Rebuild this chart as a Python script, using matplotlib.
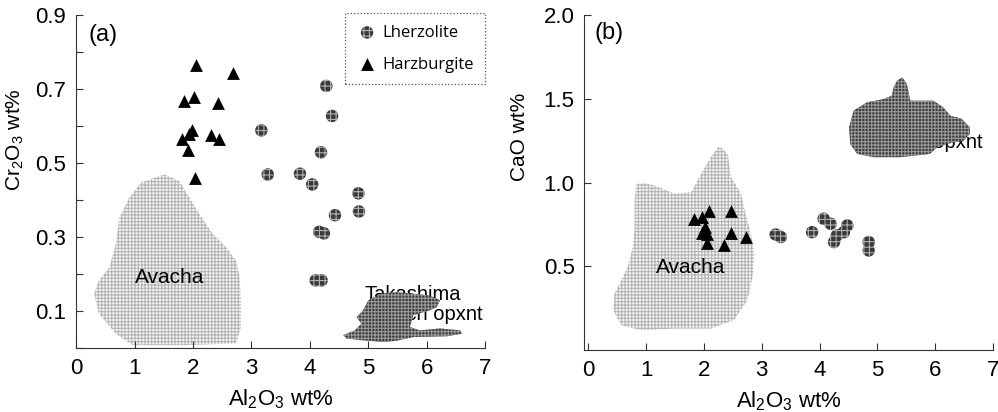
import numpy as np
import matplotlib
matplotlib.use("Agg")
import matplotlib.pyplot as plt
from matplotlib.ticker import MultipleLocator

plt.rcParams['font.family'] = ['Liberation Sans', 'DejaVu Sans']
plt.rcParams['mathtext.fontset'] = 'custom'
plt.rcParams['mathtext.rm'] = 'Liberation Sans'
plt.rcParams['hatch.linewidth'] = 0.8

# ---- panel (a): Cr2O3 vs Al2O3 ----
lherz_al_a = [4.28, 4.38, 3.17, 4.19, 3.28, 3.83, 4.04, 4.83, 4.84, 4.43, 4.16, 4.24, 4.10, 4.20]
lherz_cr_a = [0.708, 0.627, 0.588, 0.529, 0.469, 0.471, 0.442, 0.418, 0.369, 0.359, 0.314, 0.310, 0.183, 0.183]
harz_al_a = [2.05, 2.68, 1.85, 2.02, 2.42, 1.99, 1.94, 1.81, 2.31, 2.44, 1.92, 2.04]
harz_cr_a = [0.764, 0.744, 0.668, 0.677, 0.661, 0.590, 0.578, 0.566, 0.576, 0.566, 0.536, 0.460]

avacha_al_a = [1.11, 1.51, 1.77, 1.94, 2.11, 2.34, 2.57, 2.74, 2.80, 2.82, 2.82, 2.74, 1.88, 0.97,
               0.68, 0.39, 0.31, 0.39, 0.57, 0.68, 0.74, 0.91]
avacha_cr_a = [0.447, 0.469, 0.451, 0.406, 0.362, 0.308, 0.272, 0.236, 0.191, 0.129, 0.057, 0.013,
               0.008, 0.008, 0.039, 0.093, 0.147, 0.183, 0.218, 0.281, 0.352, 0.406]
taka_al_a = [4.57, 4.77, 4.88, 4.80, 4.91, 5.00, 5.20, 5.48, 5.77, 6.05, 6.23, 6.17, 6.05, 5.77,
             5.71, 5.88, 6.23, 6.57, 6.60, 6.34, 5.77, 5.48, 5.26, 4.91, 4.63]
taka_cr_a = [0.035, 0.048, 0.066, 0.084, 0.102, 0.129, 0.147, 0.151, 0.147, 0.142, 0.129, 0.111,
             0.102, 0.089, 0.057, 0.048, 0.053, 0.048, 0.039, 0.032, 0.030, 0.020, 0.017, 0.021, 0.026]

# ---- panel (b): CaO vs Al2O3 ----
lherz_al_b = [3.24, 3.33, 3.87, 4.07, 4.19, 4.30, 4.25, 4.48, 4.42, 4.85, 4.85]
lherz_ca_b = [0.690, 0.675, 0.704, 0.784, 0.754, 0.685, 0.645, 0.744, 0.704, 0.645, 0.595]
harz_al_b = [1.83, 1.97, 2.09, 2.47, 2.01, 2.06, 1.96, 2.47, 2.72, 2.06, 2.35]
harz_ca_b = [0.784, 0.794, 0.829, 0.829, 0.734, 0.694, 0.700, 0.700, 0.675, 0.639, 0.625]

avacha_al_b = [2.29, 2.41, 2.47, 2.64, 2.72, 2.81, 2.87, 2.84, 2.75, 2.52, 2.12, 1.49, 0.91, 0.57,
               0.43, 0.45, 0.57, 0.68, 0.77, 0.80, 0.80, 0.83, 0.97, 1.14, 1.49, 1.78, 1.95, 2.12, 2.24]
avacha_ca_b = [1.210, 1.171, 1.032, 0.933, 0.813, 0.694, 0.575, 0.437, 0.298, 0.179, 0.129, 0.129,
               0.119, 0.149, 0.238, 0.337, 0.417, 0.496, 0.615, 0.734, 0.893, 0.992, 0.996, 0.982,
               0.933, 0.942, 1.052, 1.151, 1.210]
taka_al_b = [5.34, 5.43, 5.51, 5.57, 5.97, 6.14, 6.26, 6.46, 6.60, 6.60, 6.49, 6.20, 6.03, 5.91,
             5.40, 4.94, 4.65, 4.53, 4.51, 4.59, 4.82, 5.11, 5.25, 5.28]
taka_ca_b = [1.607, 1.627, 1.587, 1.488, 1.488, 1.448, 1.399, 1.379, 1.329, 1.290, 1.250, 1.230,
             1.210, 1.171, 1.151, 1.151, 1.171, 1.230, 1.329, 1.429, 1.478, 1.498, 1.518, 1.567]

fig = plt.figure(figsize=(9.98, 4.12), dpi=100)
ax1 = fig.add_axes([0.0762, 0.155, 0.410, 0.809])
ax2 = fig.add_axes([0.5855, 0.150, 0.4095, 0.814])


def style_axes(ax):
    for s in ['top', 'right']:
        ax.spines[s].set_visible(False)
    for s in ['left', 'bottom']:
        ax.spines[s].set_linewidth(0.8)
        ax.spines[s].set_color('#333333')
    ax.tick_params(which='both', direction='in', labelsize=16, width=0.8, color='#333333', pad=7)
    ax.tick_params(which='major', length=5)
    ax.tick_params(which='minor', length=5)
    ax.xaxis.set_major_locator(MultipleLocator(1))
    ax.set_xlabel(r'Al$_\mathregular{2}$O$_\mathregular{3}$ wt%', fontsize=16, labelpad=6)


def draw(ax, av_x, av_y, tk_x, tk_y, lz_x, lz_y, hz_x, hz_y):
    ax.fill(av_x, av_y, facecolor='#f6f6f6', edgecolor='#b4b4b4', linewidth=0, hatch='+++++', zorder=1)
    ax.fill(tk_x, tk_y, facecolor='#3a3a3a', edgecolor='#9a9a9a', linewidth=0, hatch='+++++', zorder=3)
    ax.scatter(lz_x, lz_y, s=80, marker='o', facecolor='#3a3a3a', edgecolor='#b0b0b0',
               linewidth=0, hatch='+++', zorder=5, label='Lherzolite')
    ax.scatter(hz_x, hz_y, s=85, marker='^', color='black', linewidth=0, zorder=6, label='Harzburgite')


# panel (a)
draw(ax1, avacha_al_a, avacha_cr_a, taka_al_a, taka_cr_a, lherz_al_a, lherz_cr_a, harz_al_a, harz_cr_a)
ax1.set_xlim(0, 7)
ax1.set_ylim(0, 0.9)
style_axes(ax1)
ax1.set_yticks([0.1, 0.3, 0.5, 0.7, 0.9])
ax1.set_yticklabels(['0.1', '0.3', '0.5', '0.7', '0.9'])
ax1.yaxis.set_minor_locator(MultipleLocator(0.2))
ax1.set_ylabel(r'Cr$_\mathregular{2}$O$_\mathregular{3}$ wt%', fontsize=15)
ax1.yaxis.set_label_coords(-0.122, 0.625)
ax1.text(0.22, 0.846, '(a)', fontsize=17, va='center', ha='left')
ax1.text(1.0, 0.191, 'Avacha', fontsize=15, va='center', ha='left', zorder=4)
ax1.text(4.94, 0.118, 'Takashima\nFe-rich opxnt', fontsize=14.5, va='center', ha='left',
         linespacing=1.05, zorder=2)
leg = ax1.legend(loc='upper right', bbox_to_anchor=(1.0, 1.005), borderaxespad=0,
                 prop={'family': 'Open Sans', 'size': 12}, labelspacing=0.95,
                 handletextpad=0.3, handlelength=1.2, borderpad=0.7,
                 fancybox=False, framealpha=1, edgecolor='#555555')
leg.get_frame().set_linestyle(':')
leg.get_frame().set_linewidth(0.9)

# panel (b)
draw(ax2, avacha_al_b, avacha_ca_b, taka_al_b, taka_ca_b, lherz_al_b, lherz_ca_b, harz_al_b, harz_ca_b)
ax2.set_xlim(-0.07, 7)
ax2.set_ylim(0, 2.0)
style_axes(ax2)
ax2.set_yticks([0.5, 1.0, 1.5, 2.0])
ax2.set_yticklabels(['0.5', '1.0', '1.5', '2.0'])
ax2.set_ylabel('CaO wt%', fontsize=15)
ax2.yaxis.set_label_coords(-0.135, 0.636)
ax2.text(0.1, 1.89, '(b)', fontsize=17, va='center', ha='left')
ax2.text(1.17, 0.496, 'Avacha', fontsize=15, va='center', ha='left', zorder=4)
ax2.text(4.78, 1.30, 'Takashima\nFe-rich opxnt', fontsize=14.5, va='center', ha='left',
         linespacing=1.05, zorder=2)

for ax in (ax1, ax2):
    ax.get_xticklabels()[0].set_horizontalalignment('right')

fig.savefig('out.png', dpi=100)
